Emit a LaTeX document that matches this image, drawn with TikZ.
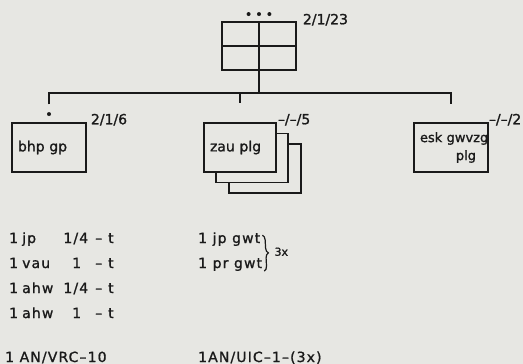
\documentclass[tikz,border=0pt]{standalone}
\usepackage{fontspec}
\setmainfont[FakeBold=1.2]{DejaVu Sans}
\newfontfamily\wideface[LetterSpace=8,FakeBold=1.2]{DejaVu Sans}
\usepackage{xcolor}
\usetikzlibrary{positioning, calc, decorations.pathreplacing}
\definecolor{paper}{RGB}{231,231,227}
\definecolor{ink}{RGB}{26,26,26}
\newcommand{\eqrow}[3]{\makebox[13pt][l]{#1}\makebox[34pt][l]{#2}\makebox[32pt][r]{#3}\hspace*{7pt}–\hspace*{6pt}t}

\begin{document}
\begin{tikzpicture}[
    x=1pt, y=-1pt,
    unitbox/.style={rectangle, draw=ink, line width=1.5pt, fill=paper, minimum width=74pt,
                    minimum height=49pt, inner xsep=6pt, text width=62pt, align=left,
                    font=\fontsize{14}{17}\selectfont, text=ink},
    strength/.style={font=\fontsize{14}{17}\selectfont, text=ink, inner sep=0pt, anchor=base west},
    equip/.style={font=\wideface\fontsize{14}{17}\selectfont, text=ink, inner sep=0pt, anchor=base west},
    tie/.style={draw=ink, line width=1.5pt, line join=miter},
    echelon/.style={circle, fill=ink, inner sep=0pt, minimum size=4pt},
]
\useasboundingbox[fill=paper] (0,0) rectangle (523,364);

% Top unit
\node[unitbox, minimum height=48pt] (hq) at (259,46) {};
\draw[tie] (hq.north) -- (hq.south);
\draw[tie] (hq.west) -- (hq.east);
\node[echelon, above=5pt of hq.north] (d2) {};
\node[echelon, left=6pt of d2] (d1) {};
\node[echelon, right=6pt of d2] (d3) {};
\node[strength] (hqs) at ($(hq.north east)+(6,3)$) {2/1/23};

% Sub units
\node[unitbox] (bhp) at (49,147.5) {bhp gp};
\node[unitbox, minimum width=72pt, text width=60pt] (zau3) at (265,168.5) {};
\node[unitbox, minimum width=72pt, text width=60pt] (zau2) at (252,158) {};
\node[unitbox, minimum width=72pt, text width=60pt] (zau) at (240,147.5) {zau plg};
\node[unitbox, align=right, font=\fontsize{13}{18}\selectfont] (esk) at (451,147.5)
    {\mbox{esk gwvzg}\\plg\hspace*{6pt}};

\node[echelon, above=6pt of bhp.north] (bhpdot) {};
\node[strength] (bhps) at ($(bhp.north east)+(4,2)$) {2/1/6};
\node[strength] (zaus) at ($(zau.north east)+(1,2)$) {–/–/5};
\node[strength] (esks) at ($(esk.north east)+(0,2)$) {–/–/2};

% Tree lines
\coordinate[above=18pt of bhp.north] (bhptop);
\coordinate[above=19pt of zau.north] (zautop);
\coordinate[above=18pt of esk.north] (esktop);
\draw[tie] (hq.south) -- ++(0,22) coordinate (hub);
\draw[tie] (bhptop) -- (bhptop |- hub) -- (esktop |- hub) -- (esktop);
\draw[tie] (zautop |- hub) -- (zautop);

% Equipment
\node[equip] (r1) at (9,243) {\eqrow{1}{jp}{1/4}};
\node[equip] (r2) at (9,268) {\eqrow{1}{vau}{1\hspace*{7pt}}};
\node[equip] (r3) at (9,293) {\eqrow{1}{ahw}{1/4}};
\node[equip] (r4) at (9,318) {\eqrow{1}{ahw}{1\hspace*{7pt}}};
\node[equip] (vrc) at (5,362) {1 AN/VRC–10};

\node[equip] (gwt1) at (198,243) {1 jp gwt};
\node[equip] (gwt2) at (198,268) {1 pr gwt};
\draw[tie, line width=1.2pt, decorate, decoration={brace, amplitude=5pt}]
    ($(gwt1.north east)+(2,3)$) -- ($(gwt2.south east)+(2,0)$);
\node[font=\fontsize{11}{13}\selectfont, text=ink, inner sep=0pt, anchor=west] (mult)
    at ($(gwt1.east)!0.5!(gwt2.east)+(13,0)$) {3x};
\node[equip] (uic) at (198,362) {1AN/UIC–1–(3x)};

\end{tikzpicture}
\end{document}
